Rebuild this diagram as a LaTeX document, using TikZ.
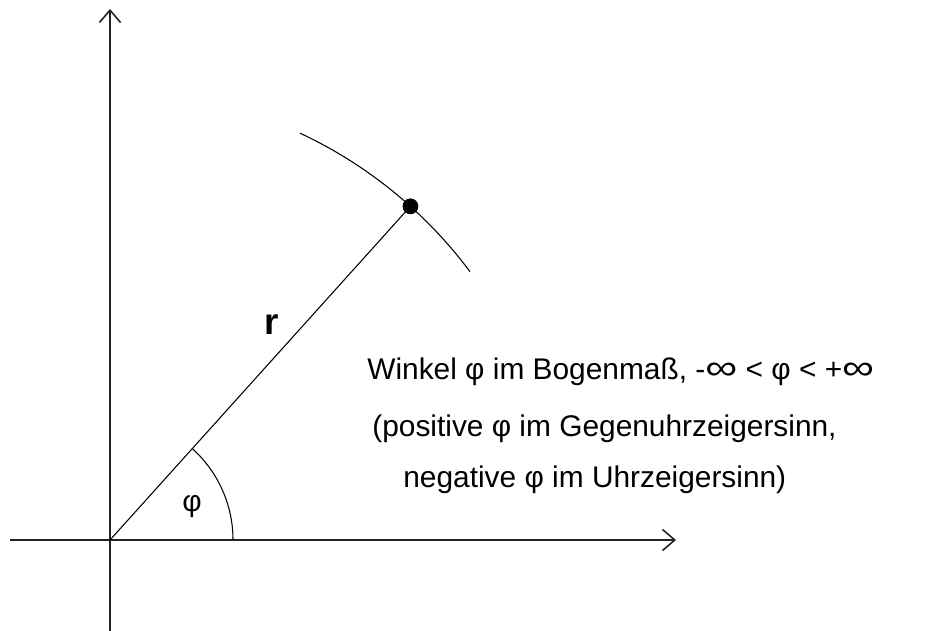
\documentclass[tikz,border=0pt]{standalone}
\usepackage{fontspec}
\setmainfont{Liberation Sans}
\usetikzlibrary{arrows.meta,calc,positioning}
\definecolor{axisgray}{HTML}{222222}
\newcommand{\unendl}{\scalebox{1.5}[1.15]{∞}}

\begin{document}
\begin{tikzpicture}[>={Straight Barb[length=7pt,width=12pt]},x=0.02cm,y=0.02cm,
  txt/.style={anchor=base west,font=\fontsize{17}{20}\selectfont,inner sep=0pt}]
  \useasboundingbox (0,0) rectangle (925,631);
  % Achsen
  \coordinate (O) at (110,91);
  \coordinate (xstart) at (10,91);
  \coordinate (xend) at (676,91);
  \coordinate (ystart) at (110,0);
  \coordinate (yend) at (110,622);
  \draw[->,line width=0.9pt,axisgray] (xstart) -- (xend);
  \draw[->,line width=0.9pt,axisgray] (ystart) -- (yend);
  % Punkt auf dem Kreis
  \node[circle,fill,inner sep=0pt,minimum size=9pt] (P) at ($(O)+(48:449)$) {};
  \draw[line width=0.6pt] (O) -- (P.center);
  \draw[line width=0.6pt] ($(O)+(36.7:449)$) arc[start angle=36.7,end angle=65,radius=449];
  \draw[line width=0.6pt] ($(O)+(123,0)$) arc[start angle=0,end angle=48,radius=123];
  \node[font=\fontsize{21}{24}\bfseries] (r) at (272,306) {r};
  \node[font=\fontsize{17}{20}\selectfont] (phi) at (192,124) {φ};
  % Erklaerung
  \node[txt] (t1) at (367,251) {Winkel φ im Bogenmaß, -\unendl{} < φ < +\unendl};
  \node[txt] (t2) at (372,194) {(positive φ im Gegenuhrzeigersinn,};
  \node[txt] (t3) at (403,143) {negative φ im Uhrzeigersinn)};
\end{tikzpicture}
\end{document}
